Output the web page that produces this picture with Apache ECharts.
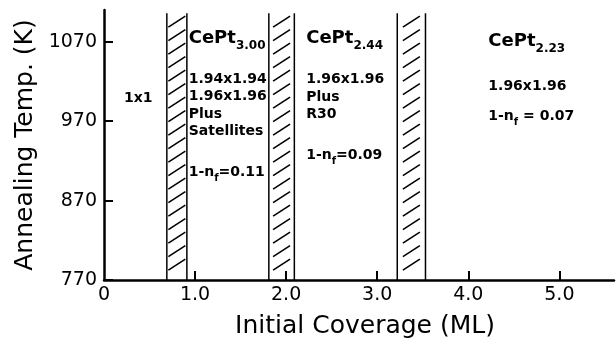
<!DOCTYPE html>
<html>
<head>
<meta charset="utf-8">
<script src="https://cdn.jsdelivr.net/npm/echarts@6/dist/echarts.min.js"></script>
<style>
  html, body { margin: 0; padding: 0; background: #fff; }
  #chart { width: 616px; height: 341px; }
</style>
</head>
<body>
<div id="chart"></div>
<script>
// axis ticks
const xTickValues = [0, 1, 2, 3, 4, 5];
const xTickLabels = ['0', '1.0', '2.0', '3.0', '4.0', '5.0'];
const yTickValues = [770, 870, 970, 1070];

// hatched phase boundaries (coverage ML)
const bandFrom = [0.69, 1.81, 3.22];
const bandTo = [0.91, 2.09, 3.53];
const bandTemp = [770, 1106];

// annotations: position (ML, K), main text, subscript, trailing text
const noteX = [0.22, 0.93, 0.93, 0.93, 0.93, 0.93, 0.93, 2.22, 2.22, 2.22, 2.22, 2.22, 4.22, 4.22, 4.22];
const noteY = [999, 1074, 1023, 1001, 979, 957, 905, 1074, 1023, 1000, 978, 927, 1070, 1014, 976];
const noteText = ['1x1', 'CePt', '1.94x1.94', '1.96x1.96', 'Plus', 'Satellites', '1-n',
  'CePt', '1.96x1.96', 'Plus', 'R30', '1-n',
  'CePt', '1.96x1.96', '1-n'];
const noteSub = ['', '3.00', '', '', '', '', 'f', '2.44', '', '', '', 'f', '2.23', '', 'f'];
const noteTail = ['', '', '', '', '', '', '=0.11', '', '', '', '', '=0.09', '', '', ' = 0.07'];

const FONT = 'DejaVu Sans';

const chart = echarts.init(document.getElementById('chart'));

const rich = {
  m: { fontSize: 18, fontWeight: 'bold', fontFamily: FONT, lineHeight: 18, verticalAlign: 'top', fill: '#000' },
  s: { fontSize: 12, fontWeight: 'bold', fontFamily: FONT, lineHeight: 12, padding: [10, 0, 0, 0], verticalAlign: 'top', fill: '#000' },
  b: { fontSize: 14, fontWeight: 'bold', fontFamily: FONT, lineHeight: 14, verticalAlign: 'top', fill: '#000' },
  f: { fontSize: 10, fontWeight: 'bold', fontFamily: FONT, lineHeight: 10, padding: [8, 0, 0, 0], verticalAlign: 'top', fill: '#000' }
};

function noteMarkup(i) {
  if (noteText[i] === 'CePt') return '{m|' + noteText[i] + '}{s|' + noteSub[i] + '}';
  let t = '{b|' + noteText[i] + '}';
  if (noteSub[i]) t += '{f|' + noteSub[i] + '}';
  if (noteTail[i]) t += '{b|' + noteTail[i] + '}';
  return t;
}

const option = {
  animation: false,
  backgroundColor: '#fff',
  grid: { left: 104, right: 2, top: 10, bottom: 61, outerBoundsMode: 'none' },
  xAxis: {
    type: 'value',
    min: 0,
    max: 5.6,
    name: 'Initial Coverage (ML)',
    nameLocation: 'middle',
    nameGap: 34,
    nameTextStyle: { fontFamily: FONT, fontSize: 25, color: '#000', padding: [0, 0, 0, 12] },
    axisLine: { show: true, lineStyle: { color: '#000', width: 2.5 } },
    axisTick: { show: true, inside: true, length: 9, lineStyle: { color: '#000', width: 2 }, customValues: xTickValues.slice(1) },
    axisLabel: {
      fontFamily: FONT, fontSize: 19, color: '#000', margin: 6,
      customValues: xTickValues,
      formatter: (v) => xTickLabels[xTickValues.indexOf(v)]
    },
    splitLine: { show: false }
  },
  yAxis: {
    type: 'value',
    min: 770,
    max: 1110,
    name: 'Annealing Temp. (K)',
    nameLocation: 'middle',
    nameGap: 57,
    nameTextStyle: { fontFamily: FONT, fontSize: 25, color: '#000' },
    axisLine: { show: true, lineStyle: { color: '#000', width: 2.5 } },
    axisTick: { show: true, inside: true, length: 9, lineStyle: { color: '#000', width: 2 }, customValues: yTickValues },
    axisLabel: {
      fontFamily: FONT, fontSize: 19, color: '#000', margin: 7,
      customValues: yTickValues,
      formatter: (v) => String(v)
    },
    splitLine: { show: false }
  },
  series: [
    {
      type: 'custom',
      clip: false,
      data: bandFrom.map((f, i) => [f, bandTo[i], bandTemp[0], bandTemp[1]]),
      encode: { x: [0, 1], y: [2, 3] },
      renderItem: (params, api) => {
        const tl = api.coord([api.value(0), api.value(3)]);
        const br = api.coord([api.value(1), api.value(2)]);
        const line = { stroke: '#000', lineWidth: 1.5 };
        const children = [
          { type: 'line', shape: { x1: tl[0], y1: tl[1], x2: tl[0], y2: br[1] }, style: line },
          { type: 'line', shape: { x1: br[0], y1: tl[1], x2: br[0], y2: br[1] }, style: line }
        ];
        const cx = (tl[0] + br[0]) / 2;
        const hw = 8.5, hh = 11;
        for (let y = tl[1] + 3; y + hh <= br[1] - 9; y += 13.5) {
          children.push({
            type: 'line',
            shape: { x1: cx - hw, y1: y + hh, x2: cx + hw, y2: y },
            style: { stroke: '#000', lineWidth: 1.6 }
          });
        }
        return { type: 'group', children };
      },
      z: 2
    },
    {
      type: 'custom',
      clip: false,
      data: noteX.map((x, i) => [x, noteY[i], i]),
      encode: { x: 0, y: 1 },
      renderItem: (params, api) => {
        const p = api.coord([api.value(0), api.value(1)]);
        const i = api.value(2);
        return {
          type: 'text',
          x: p[0],
          y: p[1],
          style: {
            text: noteMarkup(i),
            rich: rich,
            align: 'left',
            verticalAlign: 'middle',
            fill: '#000'
          }
        };
      },
      z: 3
    }
  ]
};

chart.setOption(option);
</script>
</body>
</html>
